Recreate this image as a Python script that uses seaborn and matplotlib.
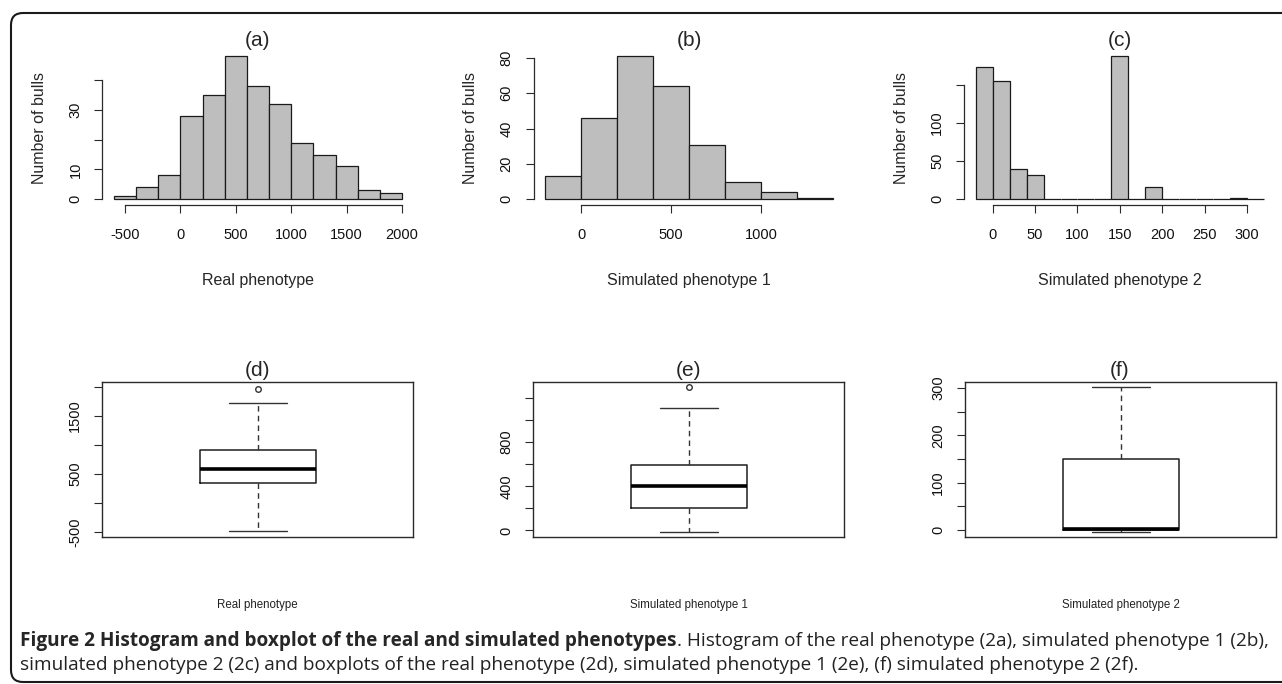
import numpy as np
import pandas as pd
import matplotlib
matplotlib.use("Agg")
import matplotlib.pyplot as plt
import seaborn as sns
from matplotlib.patches import FancyBboxPatch
from matplotlib.transforms import IdentityTransform

## Data

# histograms (bin edges and counts)
real_edges = [-600, -400, -200, 0, 200, 400, 600, 800, 1000, 1200, 1400, 1600, 1800, 2000]
real_counts = [1, 4, 8, 28, 35, 48, 38, 32, 19, 15, 11, 3, 2]
sim1_edges = [-200, 0, 200, 400, 600, 800, 1000, 1200, 1400]
sim1_counts = [13, 46, 81, 64, 31, 10, 4, 1]
sim2_edges = [-20, 0, 20, 40, 60, 80, 100, 120, 140, 160, 180, 200, 220, 240, 260, 280, 300, 320]
sim2_counts = [173, 154, 39, 32, 0, 0, 0, 0, 187, 0, 16, 0, 0, 0, 0, 2, 1]

# boxplots: lower whisker, q1, median, q3, upper whisker, outliers
real_box = [-472, 339, 580, 908, 1712]
real_out = [1955]
sim1_box = [-10, 200, 400, 595, 1105]
sim1_out = [1295]
sim2_box = [-3, 0, 2, 150, 301]
sim2_out = []

labels = ["Real phenotype", "Simulated phenotype 1", "Simulated phenotype 2"]
hist_titles = ["(a)", "(b)", "(c)"]
box_titles = ["(d)", "(e)", "(f)"]

hist_xticks = [[-500, 0, 500, 1000, 1500, 2000], [0, 500, 1000], [0, 50, 100, 150, 200, 250, 300]]
hist_yticks = [[0, 10, 20, 30, 40], [0, 20, 40, 60, 80], [0, 50, 100, 150]]
hist_ylabels = [["0", "10", "", "30", ""], ["0", "20", "40", "60", "80"], ["0", "50", "100", ""]]
box_yticks = [[-500, 0, 500, 1000, 1500, 2000], [0, 200, 400, 600, 800, 1000, 1200],
              [0, 50, 100, 150, 200, 250, 300]]
box_ylabels = [["-500", "", "500", "", "1500", ""], ["0", "", "400", "", "800", "", ""],
               ["0", "", "100", "", "200", "", "300"]]
box_ylims = [(-586, 2086), (-62, 1347), (-15, 313)]

caption_bold = "Figure 2 Histogram and boxplot of the real and simulated phenotypes"
caption_rest = (". Histogram of the real phenotype (2a), simulated phenotype 1 (2b),")
caption_line2 = ("simulated phenotype 2 (2c) and boxplots of the real phenotype (2d), "
                 "simulated phenotype 1 (2e), (f) simulated phenotype 2 (2f).")

## Layout

W, H = 1282, 684
sns.set_style("ticks")
plt.rcParams['font.family'] = ['Liberation Sans', 'DejaVu Sans']

fig = plt.figure(figsize=(W / 100, H / 100), dpi=100)


def px_rect(l, t, r, b):
    return [l / W, 1 - b / H, (r - l) / W, (b - t) / H]


hist_lefts = [102.4, 533.5, 964.2]
box_lefts = [102, 533, 965]
centers_x = [258, 689, 1120]
panel_w = 311.3
AX_COL = '#2a2a2a'


def r_axis_style(ax):
    ax.tick_params(axis='both', length=5.8, width=0.8, color=AX_COL, labelsize=10.5,
                   labelcolor='#111111')
    ax.tick_params(axis='y', pad=8.5)
    ax.tick_params(axis='x', pad=11)
    for lab in ax.get_yticklabels():
        lab.set_rotation(90)
        lab.set_va('center')


hists = [(real_edges, real_counts), (sim1_edges, sim1_counts), (sim2_edges, sim2_counts)]
for i, (edges, counts) in enumerate(hists):
    ax = fig.add_axes(px_rect(hist_lefts[i], 50.5, hist_lefts[i] + panel_w, 205))
    mids = [(edges[k] + edges[k + 1]) / 2 for k in range(len(counts))]
    df = pd.DataFrame({"value": mids, "count": counts})
    sns.histplot(data=df, x="value", weights="count", bins=list(edges), ax=ax,
                 color='#bebebe', edgecolor='#1a1a1a', linewidth=0.9, alpha=1)
    span = edges[-1] - edges[0]
    ax.set_xlim(edges[0] - 0.04 * span, edges[-1] + 0.04 * span)
    top = max(counts)
    ax.set_ylim(-0.04 * top, 1.04 * top)
    ax.set_xticks(hist_xticks[i])
    ax.set_xticklabels([str(t) for t in hist_xticks[i]])
    ax.set_yticks(hist_yticks[i])
    ax.set_yticklabels(hist_ylabels[i])
    sns.despine(ax=ax)
    ax.spines['left'].set_bounds(hist_yticks[i][0], hist_yticks[i][-1])
    ax.spines['bottom'].set_bounds(hist_xticks[i][0], hist_xticks[i][-1])
    for s in ['left', 'bottom']:
        ax.spines[s].set_color(AX_COL)
        ax.spines[s].set_linewidth(0.9)
    r_axis_style(ax)
    ax.set_ylabel("Number of bulls", fontsize=11.5, va='center')
    ax.yaxis.set_label_coords(-63 / panel_w, 0.5)
    ax.set_xlabel(labels[i], fontsize=11.5, va='center')
    ax.xaxis.set_label_coords(0.5, -(280 - 205) / 154.5)
    fig.text(centers_x[i] / W, 1 - 41 / H, hist_titles[i], ha='center', va='center', fontsize=15)

boxes = [(real_box, real_out), (sim1_box, sim1_out), (sim2_box, sim2_out)]
for i, (b, out) in enumerate(boxes):
    ax = fig.add_axes(px_rect(box_lefts[i], 381.7, box_lefts[i] + panel_w, 537.3))
    stats = [dict(whislo=b[0], q1=b[1], med=b[2], q3=b[3], whishi=b[4], fliers=out)]
    ax.bxp(stats, positions=[0], widths=0.372, showfliers=True,
           boxprops=dict(color='#1e1e1e', linewidth=1.1),
           medianprops=dict(color='black', linewidth=2.6, solid_capstyle='butt'),
           whiskerprops=dict(color='#333333', linewidth=1.0, linestyle=(0, (4, 3))),
           capprops=dict(color='#333333', linewidth=1.0),
           flierprops=dict(marker='o', markerfacecolor='none', markeredgecolor='#333333',
                           markersize=4, markeredgewidth=1.0))
    ax.set_xlim(-0.5, 0.5)
    ax.set_ylim(*box_ylims[i])
    ax.set_xticks([])
    ax.set_yticks(box_yticks[i])
    ax.set_yticklabels(box_ylabels[i])
    for s in ax.spines.values():
        s.set_color(AX_COL)
        s.set_linewidth(1.0)
    r_axis_style(ax)
    ax.set_xlabel(labels[i], fontsize=8.3, va='center', color='#222222')
    ax.xaxis.set_label_coords(0.5, -(605 - 537.3) / 155.6)
    fig.text(centers_x[i] / W, 1 - 371 / H, box_titles[i], ha='center', va='center', fontsize=15)

## Caption and frame

cap_font = ['Open Sans', 'DejaVu Sans']
cap_size = 13.7
fig.canvas.draw()
renderer = fig.canvas.get_renderer()
t1 = fig.text(20 / W, 1 - 646 / H, caption_bold, fontsize=cap_size, fontweight='bold',
              family=cap_font, va='baseline')
bb = t1.get_window_extent(renderer=renderer)
fig.text(bb.x1 / W, 1 - 646 / H, caption_rest, fontsize=cap_size, family=cap_font,
         va='baseline', color='#222222')
fig.text(20 / W, 1 - 670 / H, caption_line2, fontsize=cap_size, family=cap_font,
         va='baseline', color='#222222')

frame = FancyBboxPatch((11, H - 682), 1300, 669, boxstyle="round,pad=0,rounding_size=12",
                       transform=IdentityTransform(), facecolor='none',
                       edgecolor='#1a1a1a', linewidth=1.5)
fig.add_artist(frame)

fig.savefig("out.png", dpi=100)
